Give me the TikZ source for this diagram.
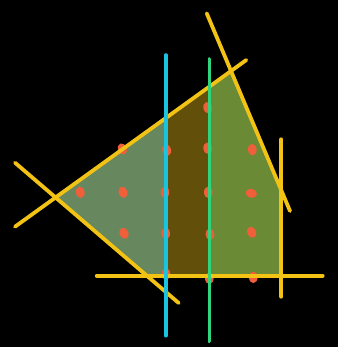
\documentclass[tikz,border=0pt]{standalone}
\usetikzlibrary{calc}

\definecolor{lineyellow}{HTML}{F2C314}
\definecolor{cutcyan}{HTML}{1AC4E0}
\definecolor{cutgreen}{HTML}{2FD47C}
\definecolor{dotorange}{HTML}{EE5F3A}
\definecolor{leftgreen}{HTML}{67885F}
\definecolor{midbrown}{HTML}{62500A}
\definecolor{rightgreen}{HTML}{6A8A35}

\begin{document}
\begin{tikzpicture}[
    x=1pt, y=-1pt,
    edge/.style={line width=3.8pt, line cap=round, draw=lineyellow},
    cut/.style={line width=3.6pt, line cap=round},
    dot/.style={fill=dotorange, draw=none},
]

% Background
\fill[black] (0,0) rectangle (338,347);
\useasboundingbox (0,0) rectangle (338,347);

% Corners of the region
\coordinate (west) at (56.7,197.8);
\coordinate (north) at (230.7,71);
\coordinate (east) at (281.3,190);
\coordinate (southeast) at (281.3,275.7);
\coordinate (southwest) at (147,275.7);

% Shaded pieces
\begin{scope}
  \clip (west) -- (north) -- (east) -- (southeast) -- (southwest) -- cycle;
  \fill[leftgreen] (0,0) rectangle (165.7,347);
  \fill[midbrown] (165.7,0) rectangle (209.3,347);
  \fill[rightgreen] (209.3,0) rectangle (338,347);
\end{scope}

% Lattice points
\foreach \px/\py/\r in {207.7/107.7/15,
    122.3/149/20, 166.7/150/20, 207.7/148.3/10, 252.3/149.7/5,
    80.3/192.3/10, 123/192.3/20, 165/192.3/0, 208.3/192.3/0, 251.3/193.3/80,
    124/233.3/25, 165.7/233.3/5, 210/234.3/5, 251.7/232.3/25,
    166/274/0, 209.3/278.3/0, 253.3/277.3/0}
  \fill[dot, rotate around={\r:(\px,\py)}] (\px,\py) ellipse [x radius=4.3, y radius=5.8];

% Supporting lines
\coordinate (a1) at (15,226.7);   \coordinate (a2) at (246.3,60);
\coordinate (b1) at (15,162.7);   \coordinate (b2) at (178.7,303);
\coordinate (c1) at (96.7,275.7); \coordinate (c2) at (322.7,275.7);
\coordinate (d1) at (281.3,139.3); \coordinate (d2) at (281.3,296.7);
\coordinate (e1) at (206.7,13.3); \coordinate (e2) at (290,211);

\draw[edge] (a1) -- (a2);
\draw[edge] (b1) -- (b2);
\draw[edge] (c1) -- (c2);
\draw[edge] (d1) -- (d2);
\draw[edge] (e1) -- (e2);

% Cuts
\coordinate (p1) at (165.7,55);  \coordinate (p2) at (165.7,335.7);
\coordinate (q1) at (209.3,59);  \coordinate (q2) at (209.3,341.3);
\draw[cut, cutcyan] (p1) -- (p2);
\draw[cut, cutgreen] (q1) -- (q2);

\end{tikzpicture}
\end{document}
